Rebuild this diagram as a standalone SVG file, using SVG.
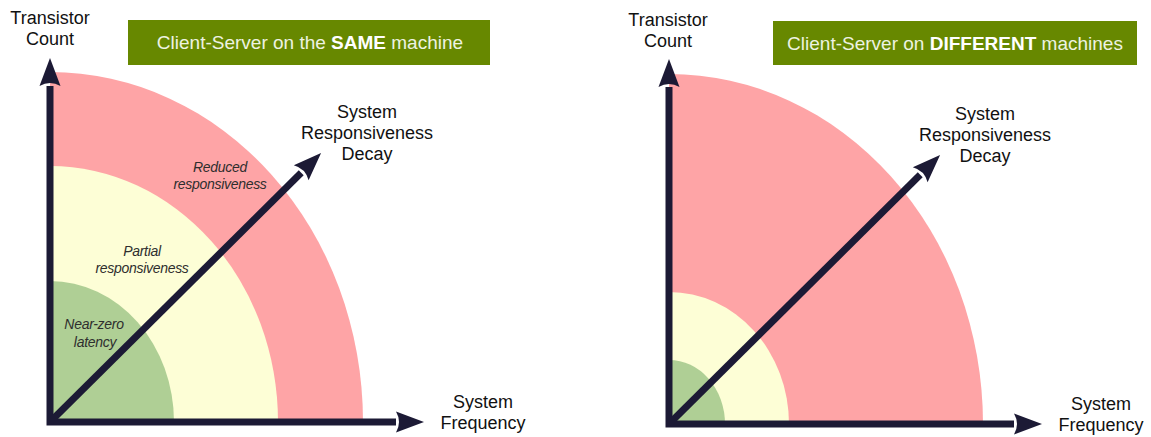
<svg xmlns="http://www.w3.org/2000/svg" width="1151" height="437" viewBox="0 0 1151 437">
  <style>
    .red { fill: #fea4a6; }
    .yellow { fill: #fdfed6; }
    .green { fill: #afcf95; }
    .axis { fill: none; stroke: #1c1a35; stroke-width: 7; stroke-linejoin: miter; }
    .title-box { fill: #678800; }
    .title { font-family: "Liberation Sans", Arial, sans-serif; font-size: 19px; fill: #eef3e2; text-anchor: middle; }
    .title tspan.b { font-weight: bold; fill: #ffffff; }
    .axis-label { font-family: "Liberation Sans", Arial, sans-serif; font-size: 18px; fill: #111111; text-anchor: middle; }
    .zone-label { font-family: "Liberation Sans", Arial, sans-serif; font-size: 14px; font-style: italic; fill: #2e2e2e; text-anchor: middle; letter-spacing: -0.3px; }
  </style>
  <defs>
    <!-- notched arrowhead; base at the line end, tip 28px ahead -->
    <marker id="head" markerUnits="userSpaceOnUse" orient="auto" refX="0" refY="0" markerWidth="30" markerHeight="24" overflow="visible">
      <path d="M0,-10.5 L28,0 L0,10.5 Q6,0 0,-10.5 Z" fill="#1c1a35"/>
    </marker>
    <marker id="head-start" markerUnits="userSpaceOnUse" orient="auto-start-reverse" refX="0" refY="0" markerWidth="30" markerHeight="24" overflow="visible">
      <path d="M0,-10.5 L28,0 L0,10.5 Q6,0 0,-10.5 Z" fill="#1c1a35"/>
    </marker>
  </defs>
  <rect width="1151" height="437" fill="#ffffff"/>

  <!-- Left chart: client and server on one machine -->
  <g id="chart-same">
    <g id="title-same">
      <rect class="title-box" x="128" y="20" width="362" height="45"/>
      <text class="title" x="310" y="49">Client-Server on the <tspan class="b">SAME</tspan> machine</text>
    </g>
    <g id="zones-same">
      <path class="red" d="M50,422 L50,72 A313,350 0 0 1 363,422 Z"/>
      <path class="yellow" d="M50,422 L50,166 A228,256 0 0 1 278,422 Z"/>
      <path class="green" d="M50,422 L50,281 A124,141 0 0 1 174,422 Z"/>
    </g>
    <g id="connectors-same">
      <path class="axis" d="M50,86 L50,422 L396,422" marker-start="url(#head-start)" marker-end="url(#head)"/>
      <path class="axis" d="M50,422 L301.2,172.8" marker-end="url(#head)"/>
    </g>
    <g id="labels-same">
      <text class="axis-label" x="50" y="24">Transistor</text>
      <text class="axis-label" x="50" y="45">Count</text>
      <text class="axis-label" x="367" y="118">System</text>
      <text class="axis-label" x="367" y="139">Responsiveness</text>
      <text class="axis-label" x="367" y="160">Decay</text>
      <text class="axis-label" x="483" y="408">System</text>
      <text class="axis-label" x="483" y="429">Frequency</text>
      <text class="zone-label" x="220" y="172">Reduced</text>
      <text class="zone-label" x="220" y="189">responsiveness</text>
      <text class="zone-label" x="142" y="256">Partial</text>
      <text class="zone-label" x="142" y="273">responsiveness</text>
      <text class="zone-label" x="94" y="329">Near-zero</text>
      <text class="zone-label" x="95" y="347">latency</text>
    </g>
  </g>

  <!-- Right chart: client and server on separate machines -->
  <g id="chart-different">
    <g id="title-different">
      <rect class="title-box" x="773" y="21" width="364" height="44"/>
      <text class="title" x="955" y="50">Client-Server on <tspan class="b">DIFFERENT</tspan> machines</text>
    </g>
    <g id="zones-different">
      <path class="red" d="M669,424 L669,74 A314,350 0 0 1 983,424 Z"/>
      <path class="yellow" d="M669,424 L669,292 A120,132 0 0 1 789,424 Z"/>
      <path class="green" d="M669,424 L669,360 A56,64 0 0 1 725,424 Z"/>
    </g>
    <g id="connectors-different">
      <path class="axis" d="M669,87 L669,424 L1014,424" marker-start="url(#head-start)" marker-end="url(#head)"/>
      <path class="axis" d="M669,424 L920.2,174.8" marker-end="url(#head)"/>
    </g>
    <g id="labels-different">
      <text class="axis-label" x="668" y="26">Transistor</text>
      <text class="axis-label" x="668" y="47">Count</text>
      <text class="axis-label" x="985" y="120">System</text>
      <text class="axis-label" x="985" y="141">Responsiveness</text>
      <text class="axis-label" x="985" y="162">Decay</text>
      <text class="axis-label" x="1101" y="410">System</text>
      <text class="axis-label" x="1101" y="431">Frequency</text>
    </g>
  </g>
</svg>
